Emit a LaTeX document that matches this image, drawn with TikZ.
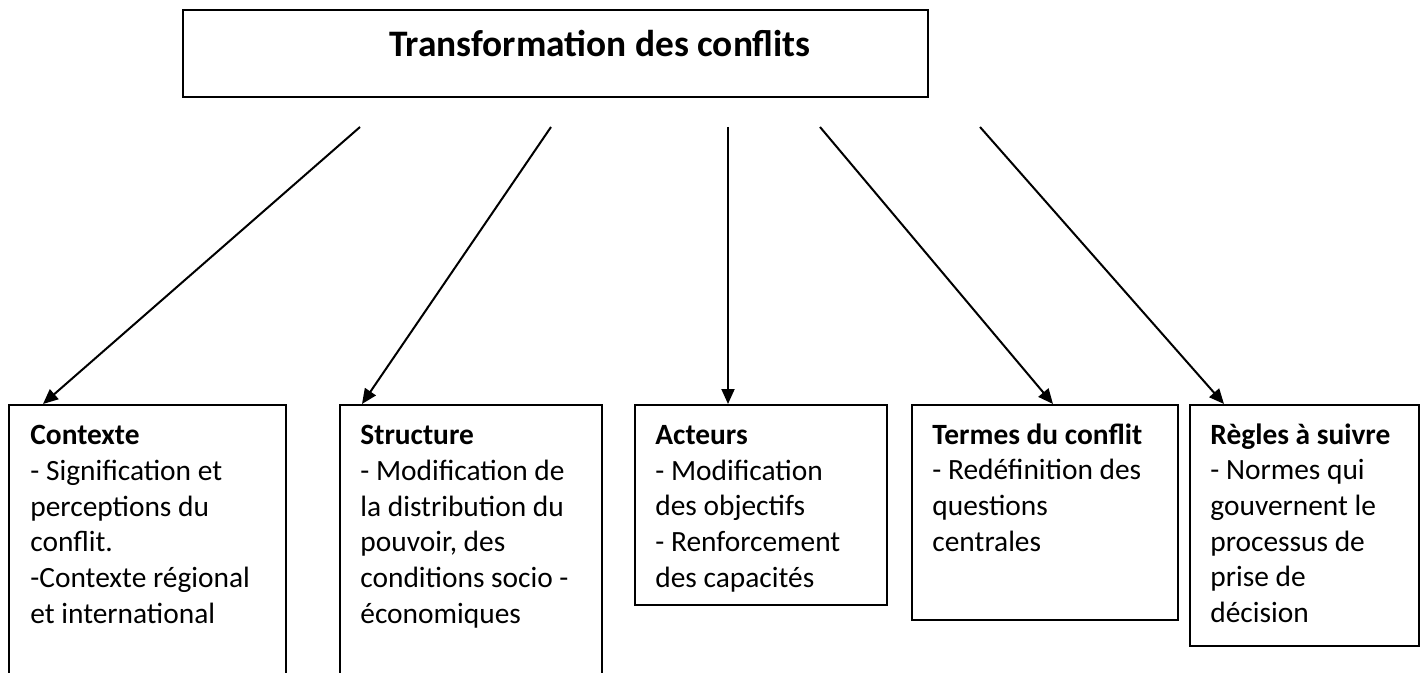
\documentclass[tikz,border=0pt]{standalone}
\usepackage{fontspec}
\setmainfont{Carlito}
\usetikzlibrary{arrows.meta}

\begin{document}
\begin{tikzpicture}[x=0.5pt,y=-0.5pt,
    box/.style={draw,line width=1pt,anchor=north west,inner sep=0pt},
    txt/.style={anchor=north west,inner sep=0pt,align=left,font=\fontsize{14.7}{17.85}\selectfont},
    arr/.style={line width=1pt,-{Triangle[length=7.5pt,width=6.5pt]}}]

\clip (0,0) rectangle (1423,673);

	% top box
	\node[box,minimum width=372.5pt,minimum height=43.5pt] (trans) at (182,9) {};
	\node[anchor=base,inner sep=0pt,font=\fontsize{18.7}{22}\selectfont\bfseries] (titre) at (600,57) {Transformation des conflits};

	% lower boxes
	\node[box,minimum width=138.5pt,minimum height=150pt] (ctx) at (8,404) {};
	\node[box,minimum width=131pt,minimum height=150pt] (str) at (339,404) {};
	\node[box,minimum width=126pt,minimum height=100pt] (act) at (634,404) {};
	\node[box,minimum width=133pt,minimum height=107.5pt] (ter) at (911,404) {};
	\node[box,minimum width=114.5pt,minimum height=120.5pt] (reg) at (1189,404) {};

	\node[txt] (ctxt) at (30,425) {\textbf{Contexte}\\- Signification et\\perceptions du\\conflit.\\-Contexte régional\\et international};
	\node[txt] (strt) at (360,425) {\textbf{Structure}\\- Modification de\\la distribution du\\pouvoir, des\\conditions socio -\\économiques};
	\node[txt] (actt) at (655,425) {\textbf{Acteurs}\\- Modification\\des objectifs\\- Renforcement\\des capacités};
	\node[txt] (tert) at (932,423) {\textbf{Termes du conflit}\\- Redéfinition des\\questions\\centrales};
	\node[txt] (regt) at (1210,423) {\textbf{Règles à suivre}\\- Normes qui\\gouvernent le\\processus de\\prise de\\décision};

	% arrows
	\coordinate (d1) at (360,127);
	\coordinate (d2) at (551,127);
	\coordinate (d3) at (728,127);
	\coordinate (d4) at (820,127);
	\coordinate (d5) at (980,127);
	\draw[arr] (d1) -- ([xshift=17.5pt]ctx.north west);
	\draw[arr] (d2) -- ([xshift=11.5pt]str.north west);
	\draw[arr] (d3) -- ([xshift=47pt]act.north west);
	\draw[arr] (d4) -- ([xshift=71pt]ter.north west);
	\draw[arr] (d5) -- ([xshift=17.5pt]reg.north west);

\end{tikzpicture}
\end{document}
